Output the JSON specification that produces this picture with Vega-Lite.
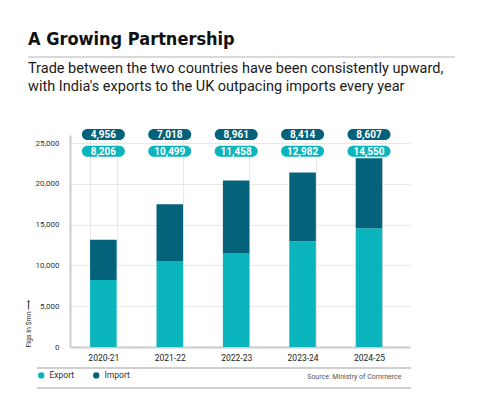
{
  "$schema": "https://vega.github.io/schema/vega-lite/v6.json",
  "width": 340,
  "height": 212,
  "autosize": {"type": "none"},
  "padding": {"left": 70, "top": 135, "right": 70, "bottom": 58},
  "background": "white",
  "title": {
    "text": "A Growing Partnership",
    "subtitle": ["Trade between the two countries have been consistently upward,", "with India's exports to the UK outpacing imports every year"],
    "anchor": "start",
    "frame": "group",
    "dx": -42,
    "offset": -37,
    "font": "DejaVu Sans Condensed",
    "fontSize": 18,
    "fontWeight": "bold",
    "color": "#111111",
    "subtitleFont": "Roboto",
    "subtitleFontSize": 14.5,
    "subtitleFontWeight": "normal",
    "subtitleColor": "#1a1a1a",
    "subtitleLineHeight": 17.5,
    "subtitlePadding": 13
  },
  "data": {
    "values": [
      {"year": "2020-21", "type": "Export", "value": 8206},
      {"year": "2020-21", "type": "Import", "value": 4956},
      {"year": "2021-22", "type": "Export", "value": 10499},
      {"year": "2021-22", "type": "Import", "value": 7018},
      {"year": "2022-23", "type": "Export", "value": 11458},
      {"year": "2022-23", "type": "Import", "value": 8961},
      {"year": "2023-24", "type": "Export", "value": 12982},
      {"year": "2023-24", "type": "Import", "value": 8414},
      {"year": "2024-25", "type": "Export", "value": 14550},
      {"year": "2024-25", "type": "Import", "value": 8607}
    ]
  },
  "encoding": {
    "x": {
      "field": "year",
      "type": "nominal",
      "scale": {"paddingInner": 0.6, "paddingOuter": 0.36, "align": 0.42},
      "axis": {
        "labelAngle": 0,
        "labelFont": "Roboto",
        "labelFontSize": 8.5,
        "labelColor": "#222222",
        "labelPadding": 6,
        "ticks": false,
        "tickBand": "extent",
        "grid": true,
        "gridColor": "#e8e8e8",
        "domainColor": "#cccccc",
        "domainWidth": 2,
        "title": "Source: Ministry of Commerce",
        "titleFont": "Roboto",
        "titleFontSize": 7,
        "titleFontWeight": "normal",
        "titleColor": "#555555",
        "titleX": 331,
        "titleY": 29,
        "titleAlign": "right",
        "titleBaseline": "middle"
      }
    }
  },
  "layer": [
    {
      "mark": {"type": "bar"},
      "encoding": {
        "y": {
          "field": "value",
          "type": "quantitative",
          "stack": "zero",
          "scale": {"domain": [0, 26000], "nice": false},
          "axis": {
            "values": [0, 5000, 10000, 15000, 20000, 25000],
            "labelExpr": "format(datum.value, ',')",
            "labelFont": "Roboto",
            "labelFontSize": 8,
            "labelColor": "#333333",
            "labelPadding": 11,
            "ticks": false,
            "gridColor": "#e8e8e8",
            "domainColor": "#cccccc",
            "domainWidth": 2,
            "title": "Figs in $mn  ⟶",
            "titleFont": "Roboto",
            "titleFontSize": 7,
            "titleFontWeight": "normal",
            "titleColor": "#333333",
            "titleAnchor": "start",
            "titleX": -39,
            "titleY": 212,
            "titleAlign": "left"
          }
        },
        "order": {"field": "type", "sort": "ascending"},
        "color": {
          "field": "type",
          "type": "nominal",
          "scale": {"domain": ["Export", "Import"], "range": ["#0ab5bd", "#04627a"]},
          "legend": {
            "orient": "none",
            "legendX": -33,
            "legendY": 236,
            "direction": "horizontal",
            "title": null,
            "symbolType": "circle",
            "symbolSize": 40,
            "symbolStrokeWidth": 0,
            "labelFont": "Roboto",
            "labelFontSize": 8.5,
            "labelColor": "#333333",
            "labelOffset": 4,
            "columnPadding": 17
          }
        }
      }
    },
    {
      "transform": [{"filter": "datum.type === 'Import'"}],
      "mark": {"type": "bar", "width": 43, "cornerRadius": 5.5, "color": "#04627a"},
      "encoding": {
        "y": {"datum": 26735},
        "y2": {"datum": 25386}
      }
    },
    {
      "transform": [{"filter": "datum.type === 'Import'"}],
      "mark": {"type": "text", "font": "Roboto", "fontSize": 10, "fontWeight": "bold", "color": "white", "baseline": "middle", "dy": 0.5},
      "encoding": {
        "y": {"datum": 26062},
        "text": {"field": "value", "type": "quantitative", "format": ","}
      }
    },
    {
      "transform": [{"filter": "datum.type === 'Export'"}],
      "mark": {"type": "bar", "width": 43, "cornerRadius": 5.5, "color": "#0ab5bd"},
      "encoding": {
        "y": {"datum": 24687},
        "y2": {"datum": 23338}
      }
    },
    {
      "transform": [{"filter": "datum.type === 'Export'"}],
      "mark": {"type": "text", "font": "Roboto", "fontSize": 10, "fontWeight": "bold", "color": "white", "baseline": "middle", "dy": 0.5},
      "encoding": {
        "y": {"datum": 24013},
        "text": {"field": "value", "type": "quantitative", "format": ","}
      }
    },
    {
      "data": {"values": [{}]},
      "mark": {"type": "rule", "color": "#cccccc", "strokeWidth": 1.5},
      "encoding": {"x": {"value": -42}, "x2": {"value": 385}, "y": {"value": -78}}
    },
    {
      "data": {"values": [{}]},
      "mark": {"type": "rule", "color": "#d0d0d0", "strokeWidth": 2},
      "encoding": {"x": {"value": -33}, "x2": {"value": 341}, "y": {"value": 233}}
    },
    {
      "data": {"values": [{}]},
      "mark": {"type": "rule", "color": "#d0d0d0", "strokeWidth": 2},
      "encoding": {"x": {"value": -33}, "x2": {"value": 341}, "y": {"value": 253}}
    }
  ],
  "config": {
    "view": {"stroke": null}
  }
}
